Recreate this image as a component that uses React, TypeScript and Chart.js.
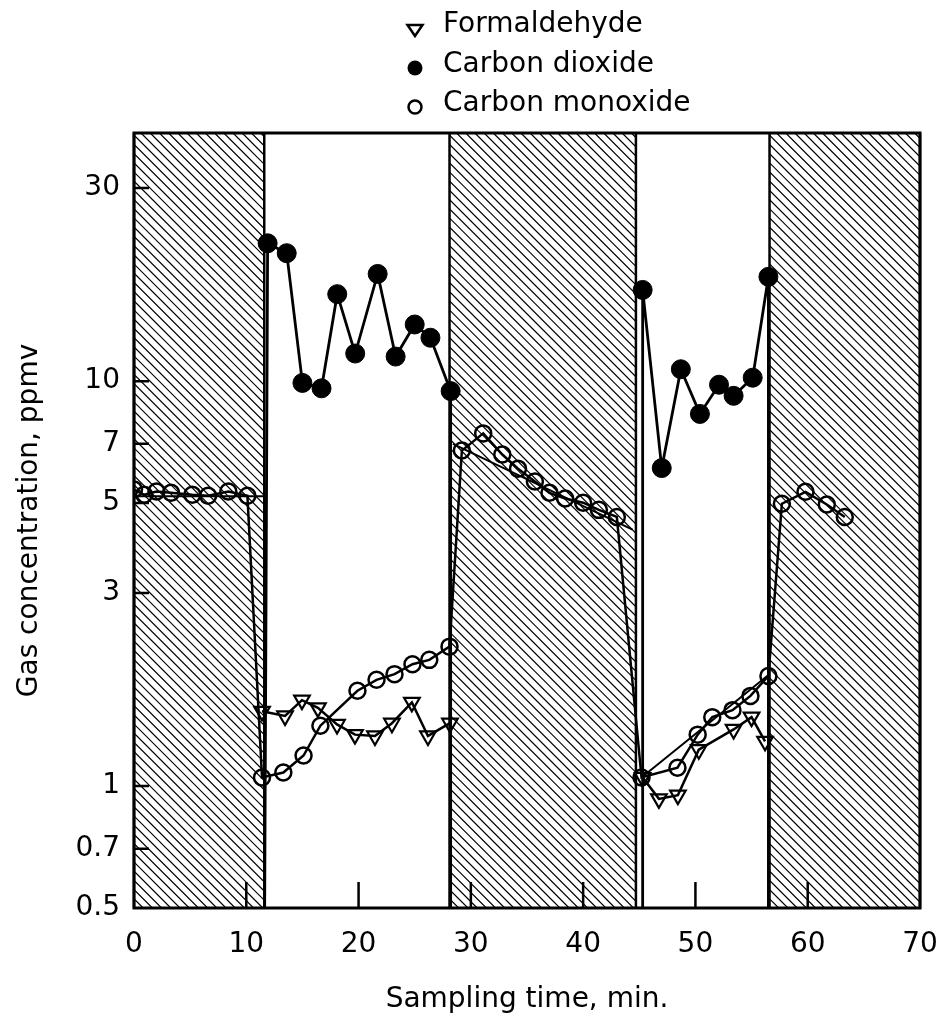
import { useEffect, useRef } from 'react';
import { Chart, registerables } from 'chart.js';

Chart.register(...registerables);

const FONT = '"DejaVu Sans", "Liberation Sans", sans-serif';

// axis ticks
const xTicks = [0, 10, 20, 30, 40, 50, 60, 70];
const yTicks = [0.5, 0.7, 1, 3, 5, 7, 10, 30];
const yInnerTicks = [0.7, 1, 3, 5, 7, 10, 30];
const xInnerTicks = [10, 20, 30, 40, 50, 60];

// hatched (shaded) periods, minutes
const shadedFrom = [0, 28.1, 56.6];
const shadedTo = [11.6, 44.7, 70];

// Formaldehyde (null = gap)
const formTime = [11.4, 13.45, 14.96, 16.38, 18.08, 19.68, 21.46, 22.97, 24.75, 26.18, 28.14, null, 45.3, 46.75, 48.44, 50.3, 53.4, 55.0, 56.2];
const formValue = [1.53, 1.49, 1.63, 1.56, 1.42, 1.34, 1.33, 1.43, 1.61, 1.33, 1.43, null, 1.05, 0.93, 0.95, 1.23, 1.38, 1.48, 1.29];

// Carbon dioxide (0.3 = below axis, off-scale)
const co2Time = [11.6, 11.9, 13.6, 15.0, 16.7, 18.1, 19.7, 21.7, 23.3, 25.0, 26.4, 28.2, 28.2, 45.3, 45.3, 47.0, 48.7, 50.4, 52.1, 53.4, 55.1, 56.5, 56.5];
const co2Value = [0.3, 21.9, 20.7, 9.9, 9.6, 16.4, 11.7, 18.4, 11.5, 13.8, 12.8, 9.45, 0.3, 0.3, 16.8, 6.1, 10.7, 8.3, 9.8, 9.2, 10.2, 18.1, 0.3];

// Carbon monoxide
const coTime = [0, 0.9, 2.0, 3.3, 5.2, 6.6, 8.4, 10.1, 11.4, 13.3, 15.1, 16.6, 19.9, 21.6, 23.2, 24.8, 26.3, 28.1, 29.2, 31.1, 32.8, 34.2, 35.7, 37.0, 38.4, 40.0, 41.4, 43.0, 45.2, 48.4, 50.2, 51.5, 53.3, 54.9, 56.5, 57.7, 59.8, 61.7, 63.3];
const coValue = [5.4, 5.24, 5.34, 5.3, 5.24, 5.21, 5.34, 5.21, 1.05, 1.08, 1.19, 1.41, 1.72, 1.83, 1.89, 2.0, 2.05, 2.21, 6.74, 7.43, 6.59, 6.08, 5.65, 5.3, 5.13, 5.01, 4.81, 4.62, 1.05, 1.11, 1.34, 1.48, 1.54, 1.67, 1.87, 4.98, 5.33, 4.96, 4.62];

// fitted trend lines for carbon monoxide
const fitTime = [0, 11.6, null, 28.4, 44.4, null, 45.2, 56.5];
const fitValue = [5.2, 5.2, null, 7.0, 4.3, null, 1.05, 1.88];

const seriesLabels = ['Formaldehyde', 'Carbon dioxide', 'Carbon monoxide'];

const Y_MIN = 0.5;
const Y_MAX = 41;

function toPoints(t: (number | null)[], v: (number | null)[]) {
  return t.map((x, i) => ({ x: x === null ? 0 : x, y: v[i] }));
}

const radiusFor = (r: number) => (ctx: any) => {
  const raw = ctx.raw;
  if (!raw || raw.y === null || raw.y < Y_MIN) return 0;
  return r;
};

const hatchPlugin = {
  id: 'hatch',
  beforeDatasetsDraw(chart: any) {
    const { ctx, chartArea } = chart;
    const xs = chart.scales.x;
    const { top, bottom } = chartArea;
    const H = bottom - top;
    ctx.save();
    for (let i = 0; i < shadedFrom.length; i++) {
      const x0 = xs.getPixelForValue(shadedFrom[i]);
      const x1 = xs.getPixelForValue(shadedTo[i]);
      ctx.save();
      ctx.beginPath();
      ctx.rect(x0, top, x1 - x0, H);
      ctx.clip();
      ctx.strokeStyle = '#000';
      ctx.lineWidth = 1.2;
      ctx.beginPath();
      for (let k = x0 - H; k < x1 + 10; k += 9.2) {
        ctx.moveTo(k, top);
        ctx.lineTo(k + H, bottom);
      }
      ctx.stroke();
      ctx.restore();
      ctx.strokeStyle = '#000';
      ctx.lineWidth = 2.5;
      ctx.beginPath();
      ctx.moveTo(x0, top);
      ctx.lineTo(x0, bottom);
      ctx.moveTo(x1, top);
      ctx.lineTo(x1, bottom);
      ctx.stroke();
    }
    ctx.restore();
  },
  afterDatasetsDraw(chart: any) {
    const { ctx, chartArea } = chart;
    const xs = chart.scales.x;
    const ys = chart.scales.y;
    ctx.save();
    ctx.strokeStyle = '#000';
    ctx.lineWidth = 2.5;
    ctx.beginPath();
    for (const v of yInnerTicks) {
      const py = ys.getPixelForValue(v);
      ctx.moveTo(chartArea.left, py);
      ctx.lineTo(chartArea.left + 15, py);
    }
    for (const v of xInnerTicks) {
      const px = xs.getPixelForValue(v);
      ctx.moveTo(px, chartArea.bottom);
      ctx.lineTo(px, chartArea.bottom - 26);
    }
    ctx.stroke();
    ctx.lineWidth = 3;
    ctx.strokeRect(chartArea.left, chartArea.top, chartArea.right - chartArea.left, chartArea.bottom - chartArea.top);
    ctx.restore();
  },
  afterDraw(chart: any) {
    const { ctx } = chart;
    const sx = 415;
    const centers = [30, 68, 107];
    const baselines = [32, 72, 111];
    ctx.save();
    ctx.strokeStyle = '#000';
    ctx.fillStyle = '#000';
    ctx.lineWidth = 2.5;
    // triangle (down)
    ctx.beginPath();
    ctx.moveTo(sx - 7.5, centers[0] - 5);
    ctx.lineTo(sx + 7.5, centers[0] - 5);
    ctx.lineTo(sx, centers[0] + 6);
    ctx.closePath();
    ctx.stroke();
    // filled circle
    ctx.beginPath();
    ctx.arc(sx, centers[1], 7.5, 0, Math.PI * 2);
    ctx.fill();
    // open circle
    ctx.beginPath();
    ctx.arc(sx, centers[2], 6.5, 0, Math.PI * 2);
    ctx.stroke();
    ctx.font = '28px ' + FONT;
    ctx.textBaseline = 'alphabetic';
    ctx.textAlign = 'left';
    const labels = chart.data.datasets.slice(0, 3).map((d: any) => d.label);
    labels.forEach((t: string, i: number) => ctx.fillText(t, 443, baselines[i]));
    ctx.restore();
  },
};

export default function App() {
  const ref = useRef<HTMLCanvasElement | null>(null);
  useEffect(() => {
    if (!ref.current) return;
    const chart = new Chart(ref.current, {
      type: 'scatter',
      data: {
        datasets: [
          {
            label: seriesLabels[0],
            data: toPoints(formTime, formValue),
            showLine: true,
            borderColor: '#000',
            borderWidth: 2.5,
            pointStyle: 'triangle',
            rotation: 180,
            pointRadius: radiusFor(9),
            pointBorderWidth: 2.2,
            pointBorderColor: '#000',
            pointBackgroundColor: 'rgba(0,0,0,0)',
            spanGaps: false,
          } as any,
          {
            label: seriesLabels[1],
            data: toPoints(co2Time, co2Value),
            showLine: true,
            borderColor: '#000',
            borderWidth: 2.8,
            pointStyle: 'circle',
            pointRadius: radiusFor(9.5),
            pointBorderWidth: 1,
            pointBorderColor: '#000',
            pointBackgroundColor: '#000',
          } as any,
          {
            label: seriesLabels[2],
            data: toPoints(coTime, coValue),
            showLine: true,
            borderColor: '#000',
            borderWidth: 2.5,
            pointStyle: 'circle',
            pointRadius: radiusFor(8),
            pointBorderWidth: 2.5,
            pointBorderColor: '#000',
            pointBackgroundColor: 'rgba(0,0,0,0)',
          } as any,
          {
            label: 'fit',
            data: toPoints(fitTime, fitValue),
            showLine: true,
            borderColor: '#000',
            borderWidth: 2,
            pointRadius: 0,
            spanGaps: false,
          } as any,
        ],
      },
      options: {
        animation: false,
        responsive: false,
        maintainAspectRatio: false,
        events: [],
        layout: { padding: { top: 133, right: 0, bottom: 0, left: 0 } },
        plugins: { legend: { display: false }, tooltip: { enabled: false } },
        scales: {
          x: {
            type: 'linear',
            min: 0,
            max: 70,
            afterBuildTicks: (s: any) => {
              s.ticks = xTicks.map((v) => ({ value: v }));
            },
            afterFit: (s: any) => {
              s.height = 115;
              s.paddingRight = 20;
              s.paddingLeft = 0;
            },
            ticks: {
              font: { family: FONT, size: 28 },
              color: '#000',
              padding: 20,
              maxRotation: 0,
              autoSkip: false,
              callback: (v: any) => String(v),
            },
            grid: { display: false, drawTicks: false },
            border: { display: false },
            title: {
              display: true,
              text: 'Sampling time, min.',
              font: { family: FONT, size: 28 },
              color: '#000',
              padding: { top: 0, bottom: 6 },
            },
          },
          y: {
            type: 'logarithmic',
            min: Y_MIN,
            max: Y_MAX,
            afterBuildTicks: (s: any) => {
              s.ticks = yTicks.map((v) => ({ value: v }));
            },
            afterFit: (s: any) => {
              s.width = 134;
            },
            ticks: {
              font: { family: FONT, size: 28 },
              color: '#000',
              padding: 14,
              autoSkip: false,
              callback: (v: any) => String(v),
            },
            grid: { display: false, drawTicks: false },
            border: { display: false },
            title: {
              display: true,
              text: 'Gas concentration, ppmv',
              font: { family: FONT, size: 28 },
              color: '#000',
              padding: { top: 13, bottom: 0 },
            },
          },
        },
      },
      plugins: [hatchPlugin],
    } as any);
    return () => chart.destroy();
  }, []);
  return (
    <div style={{ position: 'absolute', left: 0, top: 0, width: 940, height: 1023, background: '#fff' }}>
      <canvas ref={ref} width={940} height={1023} style={{ display: 'block' }} />
    </div>
  );
}
